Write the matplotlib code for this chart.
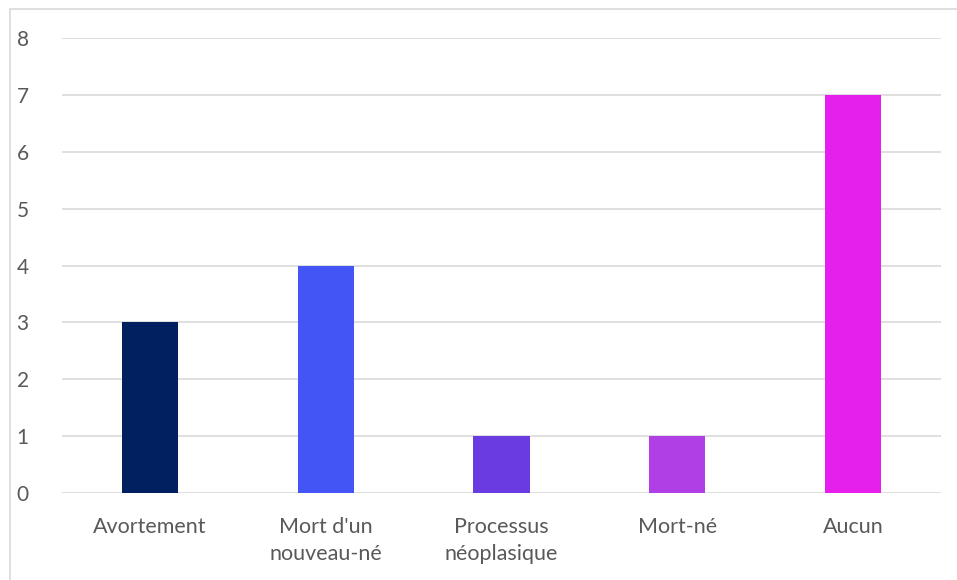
import matplotlib
matplotlib.use("Agg")
import matplotlib.pyplot as plt
from matplotlib.patches import Rectangle

categories = ["Avortement", "Mort d'un\nnouveau-né", "Processus\nnéoplasique", "Mort-né", "Aucun"]
values = [3, 4, 1, 1, 7]
colors = ["#002060", "#4455F5", "#6A3BE0", "#B040E6", "#E620EC"]
yticks = [0, 1, 2, 3, 4, 5, 6, 7, 8]

plt.rcParams['font.family'] = ['Lato', 'DejaVu Sans']

fig = plt.figure(figsize=(9.57, 5.80), dpi=100)
ax = fig.add_axes([62/957, 1-493/580, (941-62)/957, (493-38)/580])

x = list(range(len(categories)))
ax.bar(x, values, width=0.32, color=colors, zorder=3)
ax.set_xlim(-0.5, len(categories)-0.5)
ax.set_ylim(0, 8)
ax.set_yticks(yticks)
ax.set_xticks(x)
ax.set_xticklabels(categories, fontsize=15.5, color="#595959", linespacing=1.45)
ax.tick_params(axis='y', labelsize=15, labelcolor="#595959", length=0, pad=24)
ax.tick_params(axis='x', length=0, pad=17)
ax.grid(axis='y', color="#D9D9D9", linewidth=1.2, zorder=0)
for s in ax.spines.values():
    s.set_visible(False)

fig.patches.append(Rectangle((10/957, -0.05), 1.0, 1-9/580+0.05, transform=fig.transFigure,
                             fill=False, edgecolor="#D9D9D9", linewidth=1.2))

fig.savefig("out.png", dpi=100)
